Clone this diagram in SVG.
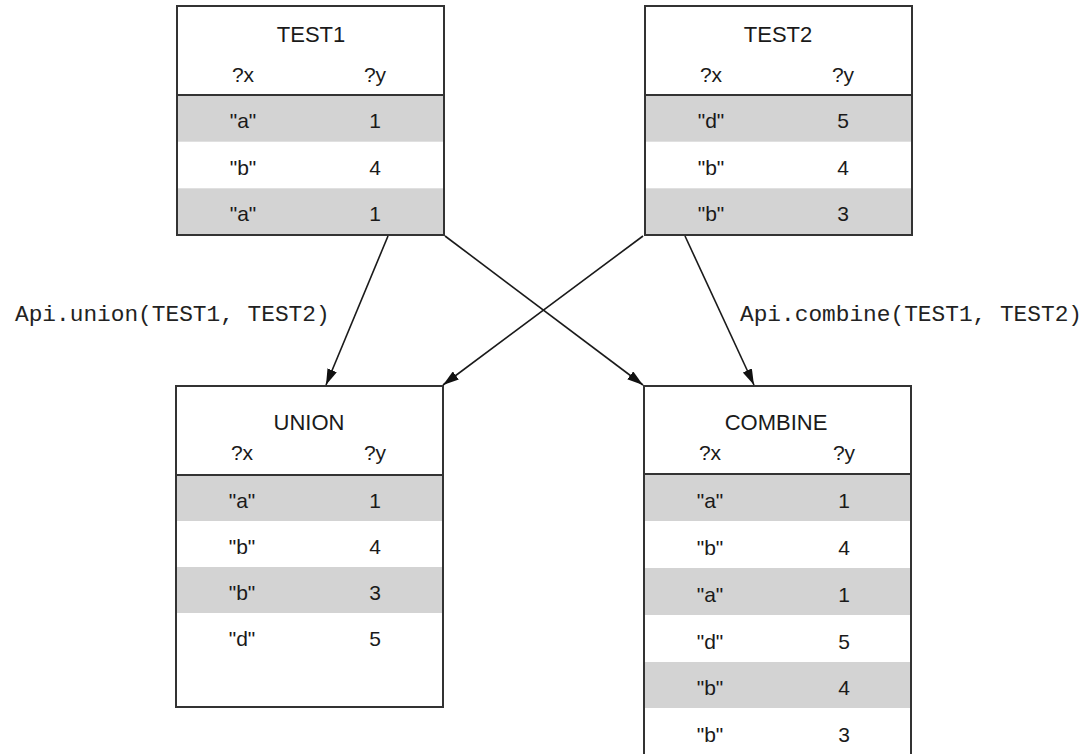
<svg xmlns="http://www.w3.org/2000/svg" width="1089" height="754" viewBox="0 0 1089 754">
<style>
.bg{fill:#ffffff}
.frame{fill:none;stroke:#333333;stroke-width:2}
.sep{stroke:#333333;stroke-width:2}
.g{fill:#d3d3d3}
.t{font-family:"Liberation Sans",Arial,sans-serif;font-size:22px;fill:#1a1a1a;text-anchor:middle}
.c{font-family:"Liberation Sans",Arial,sans-serif;font-size:21px;fill:#1a1a1a;text-anchor:middle}
.m{font-family:"Liberation Mono","Courier New",monospace;font-size:22.8px;fill:#222222}
.conn{stroke:#1a1a1a;stroke-width:1.6;fill:none;marker-end:url(#ah)}
</style>
<defs>
<marker id="ah" markerUnits="userSpaceOnUse" viewBox="0 0 16 10" markerWidth="16" markerHeight="10" refX="16" refY="5" orient="auto">
<path d="M0,0 L16,5 L0,10 z" fill="#111111"/>
</marker>
</defs>
<rect width="1089" height="754" class="bg"/>

<g id="test1">
<rect x="177" y="6" width="267" height="229" class="bg"/>
<rect x="177" y="95" width="267" height="46.7" class="g"/>
<rect x="177" y="188.3" width="267" height="46.7" class="g"/>
<line x1="177" y1="95" x2="444" y2="95" class="sep"/>
<rect x="177" y="6" width="267" height="229" class="frame"/>
<text x="311" y="42" class="t">TEST1</text>
<text x="243" y="82" class="c">?x</text>
<text x="375" y="82" class="c">?y</text>
<text x="243" y="128" class="c">"a"</text>
<text x="375" y="128" class="c">1</text>
<text x="243" y="175" class="c">"b"</text>
<text x="375" y="175" class="c">4</text>
<text x="243" y="221" class="c">"a"</text>
<text x="375" y="221" class="c">1</text>
</g>

<g id="test2">
<rect x="645" y="6" width="267" height="229" class="bg"/>
<rect x="645" y="95" width="267" height="46.7" class="g"/>
<rect x="645" y="188.3" width="267" height="46.7" class="g"/>
<line x1="645" y1="95" x2="912" y2="95" class="sep"/>
<rect x="645" y="6" width="267" height="229" class="frame"/>
<text x="778" y="42" class="t">TEST2</text>
<text x="711" y="82" class="c">?x</text>
<text x="843" y="82" class="c">?y</text>
<text x="711" y="128" class="c">"d"</text>
<text x="843" y="128" class="c">5</text>
<text x="711" y="175" class="c">"b"</text>
<text x="843" y="175" class="c">4</text>
<text x="711" y="221" class="c">"b"</text>
<text x="843" y="221" class="c">3</text>
</g>

<g id="union">
<rect x="176" y="386" width="267" height="321" class="bg"/>
<rect x="176" y="475" width="267" height="46" class="g"/>
<rect x="176" y="567" width="267" height="46" class="g"/>
<line x1="176" y1="475" x2="443" y2="475" class="sep"/>
<rect x="176" y="386" width="267" height="321" class="frame"/>
<text x="309" y="430" class="t">UNION</text>
<text x="242" y="460" class="c">?x</text>
<text x="375" y="460" class="c">?y</text>
<text x="242" y="508" class="c">"a"</text>
<text x="375" y="508" class="c">1</text>
<text x="242" y="554" class="c">"b"</text>
<text x="375" y="554" class="c">4</text>
<text x="242" y="600" class="c">"b"</text>
<text x="375" y="600" class="c">3</text>
<text x="242" y="646" class="c">"d"</text>
<text x="375" y="646" class="c">5</text>
</g>

<g id="combine">
<rect x="644" y="386" width="267" height="380" class="bg"/>
<rect x="644" y="474" width="267" height="47" class="g"/>
<rect x="644" y="568" width="267" height="47" class="g"/>
<rect x="644" y="662" width="267" height="46" class="g"/>
<line x1="644" y1="474" x2="911" y2="474" class="sep"/>
<rect x="644" y="386" width="267" height="380" class="frame"/>
<text x="776" y="430" class="t">COMBINE</text>
<text x="710" y="460" class="c">?x</text>
<text x="844" y="460" class="c">?y</text>
<text x="710" y="508" class="c">"a"</text>
<text x="844" y="508" class="c">1</text>
<text x="710" y="555" class="c">"b"</text>
<text x="844" y="555" class="c">4</text>
<text x="710" y="602" class="c">"a"</text>
<text x="844" y="602" class="c">1</text>
<text x="710" y="649" class="c">"d"</text>
<text x="844" y="649" class="c">5</text>
<text x="710" y="695" class="c">"b"</text>
<text x="844" y="695" class="c">4</text>
<text x="710" y="742" class="c">"b"</text>
<text x="844" y="742" class="c">3</text>
</g>

<g id="connectors">
<line x1="388" y1="236" x2="326" y2="385" class="conn"/>
<line x1="445" y1="236" x2="643" y2="385" class="conn"/>
<line x1="643" y1="236" x2="443" y2="385" class="conn"/>
<line x1="685" y1="236" x2="754" y2="385" class="conn"/>
</g>

<g id="labels">
<text x="15" y="321" class="m">Api.union(TEST1, TEST2)</text>
<text x="740" y="321" class="m">Api.combine(TEST1, TEST2)</text>
</g>
</svg>
